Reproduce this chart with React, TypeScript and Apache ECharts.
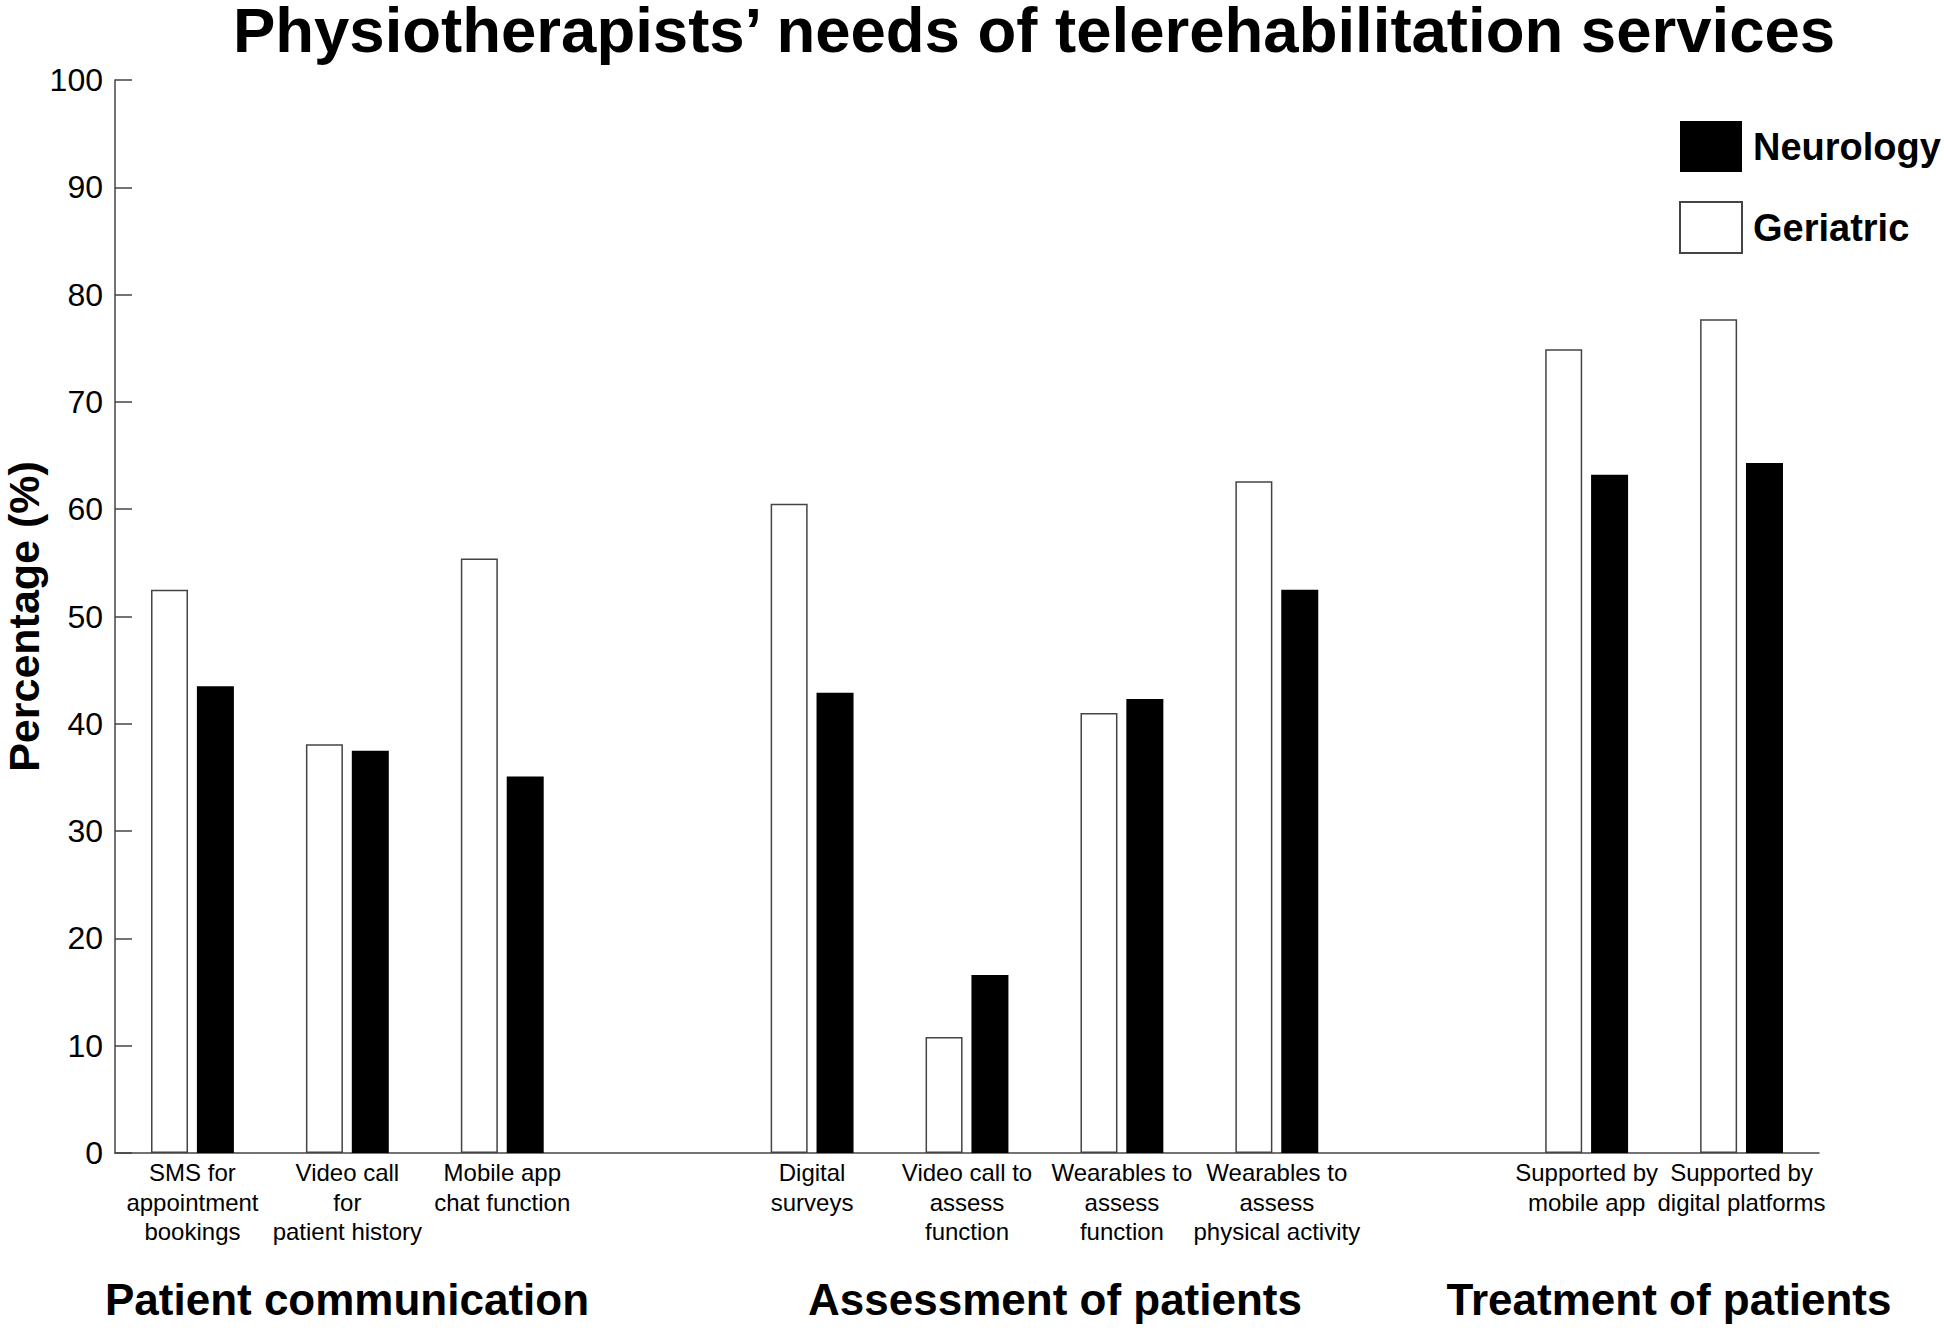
import React, { useEffect, useRef } from "react";
import * as echarts from "echarts";

const categories: string[] = [
  "SMS for\nappointment\nbookings",
  "Video call\nfor\npatient history",
  "Mobile app\nchat function",
  "",
  "Digital\nsurveys",
  "Video call to\nassess\nfunction",
  "Wearables to\nassess\nfunction",
  "Wearables to\nassess\nphysical activity",
  " ",
  "Supported by\nmobile app",
  "Supported by\ndigital platforms",
];

const geriatric: (number | null)[] = [52.5, 38.1, 55.4, null, 60.5, 10.8, 41.0, 62.6, null, 74.9, 77.7];
const neurology: (number | null)[] = [43.5, 37.5, 35.1, null, 42.9, 16.6, 42.3, 52.5, null, 63.2, 64.3];

const groupNames: string[] = ["Patient communication", "Assessment of patients", "Treatment of patients"];
const groupCenters: number[] = [347, 1055, 1669];

const titleText = "Physiotherapists’ needs of telerehabilitation services";
const yAxisName = "Percentage (%)";

const FONT = "'Liberation Sans', Arial, Helvetica, sans-serif";

export default function App() {
  const ref = useRef<HTMLDivElement>(null);
  useEffect(() => {
    if (!ref.current) return;
    const chart = echarts.init(ref.current, undefined, { renderer: "svg" });
    const axisColor = "#444";
    chart.setOption({
      animation: false,
      backgroundColor: "#fff",
      textStyle: { fontFamily: FONT },
      title: {
        text: titleText,
        left: 1034,
        textAlign: "center",
        top: 2,
        padding: 0,
        textStyle: { fontFamily: FONT, fontSize: 63.5, lineHeight: 56, fontWeight: "bold", color: "#000" },
      },
      legend: {
        data: ["Neurology", "Geriatric"],
        orient: "vertical",
        left: 1679,
        top: 121,
        padding: 0,
        itemWidth: 62,
        itemHeight: 51,
        itemGap: 29,
        icon: "rect",
        textStyle: { fontFamily: FONT, fontSize: 38, fontWeight: "bold", color: "#000", padding: [0, 0, 0, 6] },
      },
      grid: { left: 115, right: 125, top: 80, bottom: 177, containLabel: false, outerBoundsMode: "none" },
      xAxis: {
        type: "category",
        data: categories,
        boundaryGap: true,
        axisLine: { show: true, lineStyle: { color: axisColor, width: 1.5 } },
        axisTick: { show: false },
        axisLabel: {
          interval: 0,
          margin: 5,
          fontFamily: FONT,
          fontSize: 24,
          lineHeight: 29.5,
          color: "#000",
          align: "center",
        },
        splitLine: { show: false },
      },
      yAxis: {
        type: "value",
        min: 0,
        max: 100,
        interval: 10,
        name: yAxisName,
        nameLocation: "middle",
        nameRotate: 90,
        nameGap: 70,
        nameMoveOverlap: false,
        nameTextStyle: { fontFamily: FONT, fontSize: 43, fontWeight: "bold", color: "#000" },
        axisLine: { show: true, lineStyle: { color: axisColor, width: 1.5 } },
        axisTick: { show: true, inside: true, length: 17, lineStyle: { color: axisColor, width: 1.5 } },
        axisLabel: { margin: 12, fontFamily: FONT, fontSize: 32, color: "#000" },
        splitLine: { show: false },
      },
      series: [
        {
          name: "Geriatric",
          type: "bar",
          data: geriatric,
          barWidth: 37,
          barGap: "24%",
          itemStyle: { color: "#fff", borderColor: axisColor, borderWidth: 1.5 },
        },
        {
          name: "Neurology",
          type: "bar",
          data: neurology,
          barWidth: 37,
          barGap: "24%",
          itemStyle: { color: "#000", borderColor: "#000", borderWidth: 0 },
        },
      ],
      graphic: groupNames.map((name, i) => ({
        type: "text",
        x: groupCenters[i],
        y: 1299,
        style: {
          text: name,
          fontFamily: FONT,
          fontSize: 44,
          fontWeight: "bold",
          fill: "#000",
          textAlign: "center",
          textVerticalAlign: "middle",
        },
      })),
    });
    return () => chart.dispose();
  }, []);
  return (
    <div
      ref={ref}
      style={{ position: "absolute", left: 0, top: 0, width: 1944, height: 1330 }}
    />
  );
}
